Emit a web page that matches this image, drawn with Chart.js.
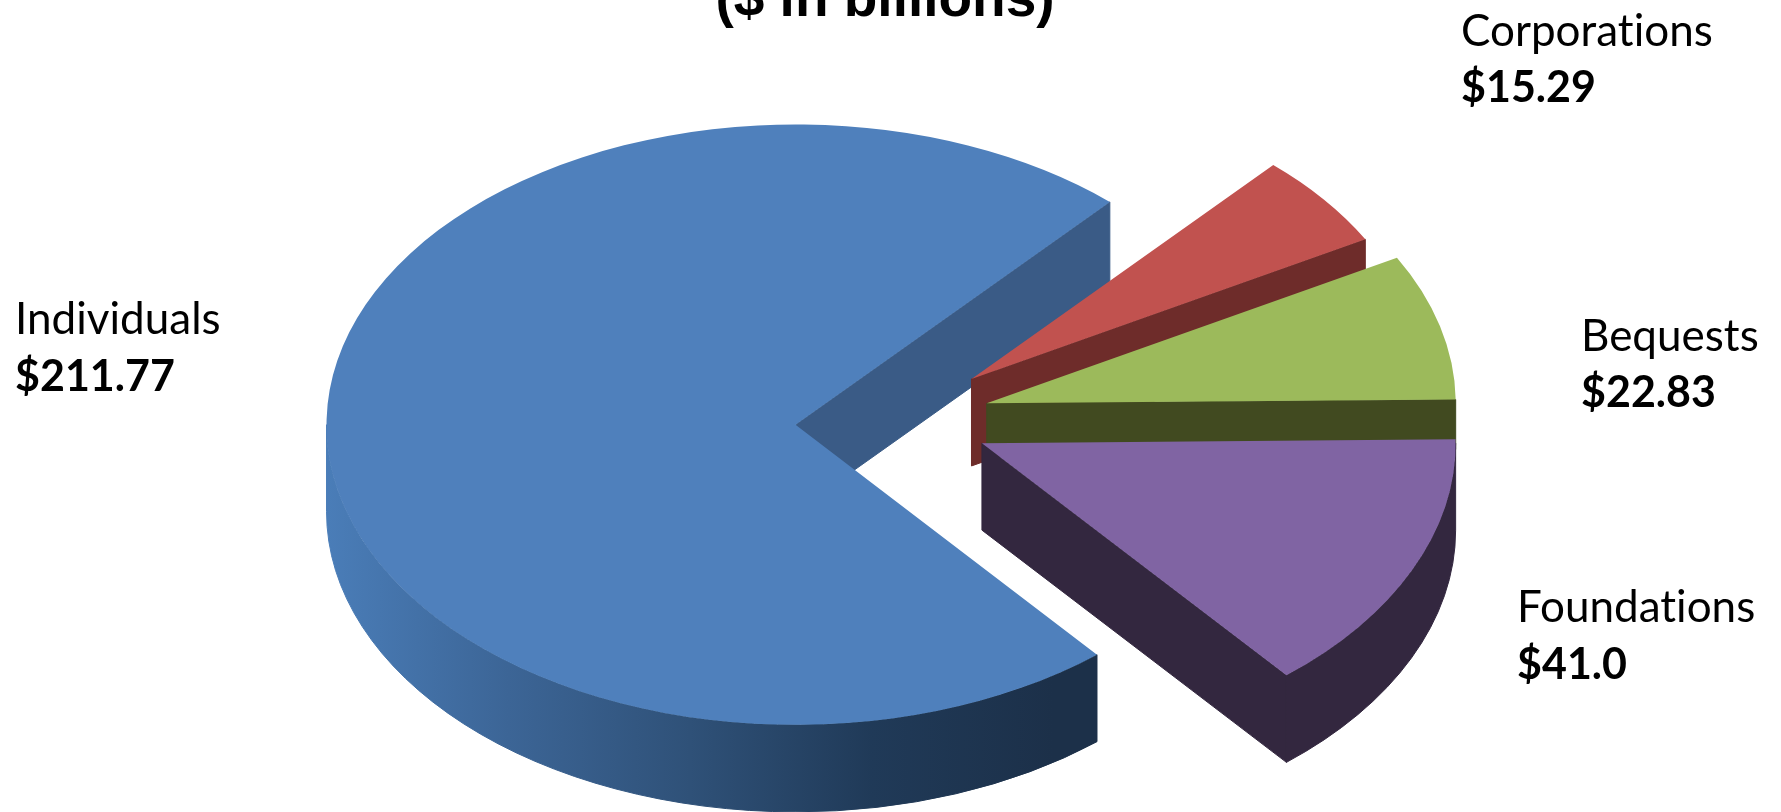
<!DOCTYPE html>
<html>
<head>
  <title>($ in billions)</title>
  <script src="https://cdn.jsdelivr.net/npm/chart.js"></script>
  <style>
    html, body { margin: 0; background: #fff; overflow: hidden; }
  </style>
</head>
<body>
  <canvas id="pieChart" width="1781" height="812"></canvas>

  <script>
    // data
    const titleText = '($ in billions)';
    const categories = ['Individuals', 'Corporations', 'Bequests', 'Foundations'];
    const values = [211.77, 15.29, 22.83, 41.0];
    const valueLabels = ['$211.77', '$15.29', '$22.83', '$41.0'];

    // slice colours
    const topColors = ['#4f80bc', '#c1524f', '#9cba5b', '#8064a3'];
    const faceColors = ['#3a5b86', '#6e2c2a', '#414a20', '#33273f'];
    const rimStops = [
      [[0, '#4a7db8'], [0.25, '#3c6596'], [0.5, '#2f5178'], [0.75, '#203a58'], [1, '#1c3049']],
      [[0, '#6e2c2a'], [1, '#6e2c2a']],
      [[0, '#414a20'], [1, '#414a20']],
      [[0, '#33273f'], [1, '#33273f']]
    ];

    // fake 3d settings, one entry per slice
    const squash = 0.64;
    const depth = [87, 87, 50, 87];
    const explode = [111, 83, 83, 83];
    const liftY = [11, -3, 2, 6];
    const sizeFactor = [1, 0.96, 1, 1.01];

    // where the labels go: left x, baseline of name, baseline of value
    const labelSpots = [
      [15, 334, 391],
      [1461, 46, 102],
      [1581, 351, 407],
      [1517, 622, 679]
    ];

    function slicePosition(arc, i) {
      const mid = (arc.startAngle + arc.endAngle) / 2;
      return {
        x: arc.x + Math.cos(mid) * explode[i],
        y: arc.y + Math.sin(mid) * explode[i] * squash + liftY[i]
      };
    }

    function drawSlice(ctx, arc, i) {
      const p = slicePosition(arc, i);
      const r = arc.outerRadius * sizeFactor[i];
      const ry = r * squash;
      const end = arc.endAngle;
      const d = depth[i];

      ctx.lineWidth = 1;

      // flat cut face below the closing edge of the slice
      const ex = p.x + Math.cos(end) * r;
      const ey = p.y + Math.sin(end) * ry;
      ctx.fillStyle = faceColors[i];
      ctx.strokeStyle = faceColors[i];
      ctx.beginPath();
      ctx.moveTo(p.x, p.y);
      ctx.lineTo(ex, ey);
      ctx.lineTo(ex, ey + d);
      ctx.lineTo(p.x, p.y + d);
      ctx.closePath();
      ctx.fill();
      ctx.stroke();

      // outer wall, only the part facing the viewer
      const grad = ctx.createLinearGradient(p.x - r, 0, p.x + r * 0.55, 0);
      rimStops[i].forEach(s => grad.addColorStop(s[0], s[1]));
      ctx.fillStyle = grad;
      ctx.strokeStyle = grad;
      for (let k = 0; k < 2; k++) {
        const lo = Math.max(arc.startAngle, k * Math.PI * 2);
        const hi = Math.min(end, k * Math.PI * 2 + Math.PI);
        if (lo >= hi) continue;
        ctx.beginPath();
        ctx.ellipse(p.x, p.y, r, ry, 0, lo, hi);
        ctx.ellipse(p.x, p.y + d, r, ry, 0, hi, lo, true);
        ctx.closePath();
        ctx.fill();
        ctx.stroke();
      }

      // top surface is the chart.js arc itself, squashed
      ctx.save();
      ctx.translate(p.x, p.y);
      ctx.scale(sizeFactor[i], squash * sizeFactor[i]);
      ctx.translate(-arc.x, -arc.y);
      arc.draw(ctx);
      ctx.restore();
    }

    const pie3d = {
      id: 'pie3d',
      beforeDatasetsDraw(chart) {
        chart.getDatasetMeta(0).data.forEach((arc, i) => drawSlice(chart.ctx, arc, i));
        return false;
      },
      afterDraw(chart) {
        const ctx = chart.ctx;
        ctx.save();
        ctx.fillStyle = '#000';
        ctx.textBaseline = 'alphabetic';
        ctx.textAlign = 'center';
        ctx.font = 'bold 55px "Liberation Sans"';
        ctx.fillText(titleText, 885, 16);
        ctx.textAlign = 'left';
        // tiny spacing switches off the "ti" ligature of Lato
        ctx.letterSpacing = '0.01px';
        categories.forEach((name, i) => {
          const s = labelSpots[i];
          ctx.font = '44px Lato';
          ctx.fillText(name, s[0], s[1]);
          ctx.font = 'bold 43px Lato';
          ctx.fillText(valueLabels[i], s[0], s[2]);
        });
        ctx.restore();
      }
    };

    new Chart(document.getElementById('pieChart').getContext('2d'), {
      type: 'pie',
      data: {
        labels: categories,
        datasets: [{
          data: values,
          backgroundColor: topColors,
          borderWidth: 0
        }]
      },
      options: {
        responsive: false,
        animation: false,
        events: [],
        rotation: 140,
        radius: 469,
        layout: { padding: { left: 32, top: 18 } },
        plugins: {
          legend: { display: false },
          tooltip: { enabled: false }
        }
      },
      plugins: [pie3d]
    });
  </script>
</body>
</html>
